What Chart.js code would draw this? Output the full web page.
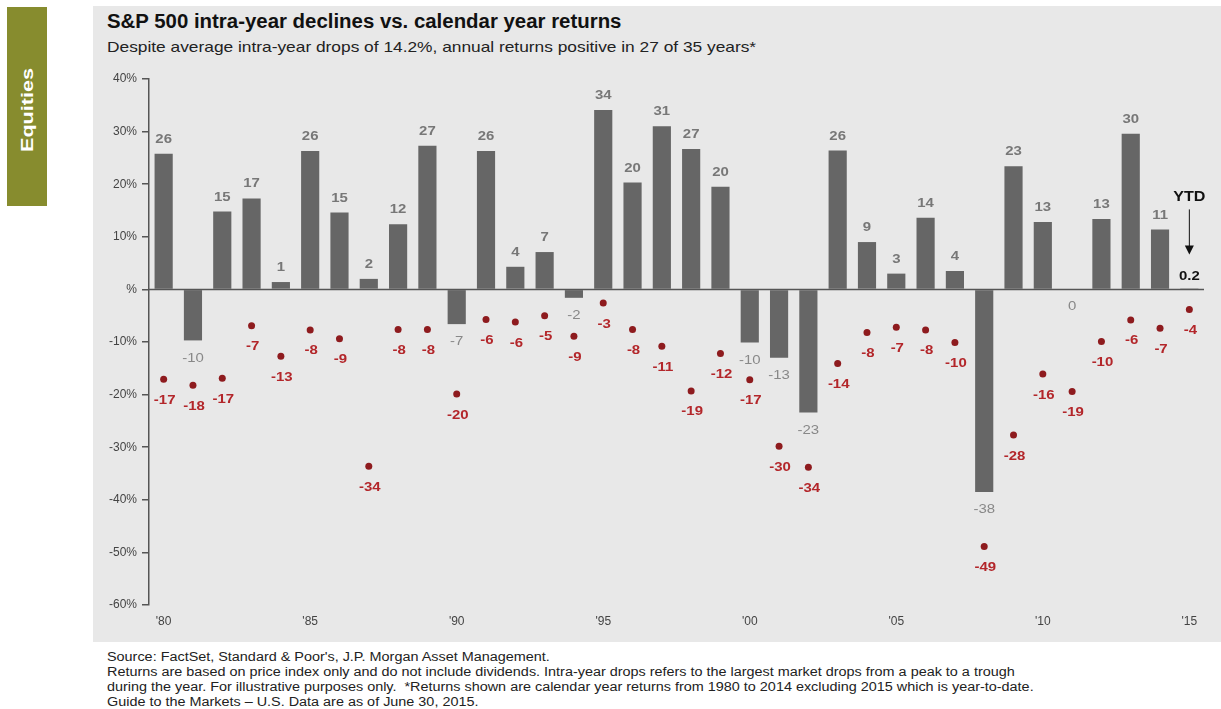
<!DOCTYPE html>
<html>
<head>
<meta charset="utf-8">
<script src="https://cdn.jsdelivr.net/npm/chart.js@4.4.0/dist/chart.umd.min.js"></script>
<style>
  body { margin: 0; width: 1221px; height: 709px; background: #fff; position: relative; overflow: hidden; font-family: "Liberation Sans", Arial, sans-serif; }
  #tab { position: absolute; left: 7px; top: 7px; width: 40px; height: 199px; background: #878c2e; }
  #tab span { position: absolute; left: 21px; top: 103px; transform: translate(-50%, -50%) rotate(-90deg) scaleX(1.35); color: #fff; font-weight: bold; font-size: 16px; white-space: nowrap; }
  #panel { position: absolute; left: 93px; top: 6px; width: 1128px; height: 636px; background: #e8e8e8; }
  .wide { transform-origin: 0 0; }
  #title { position: absolute; left: 107px; top: 10px; font-size: 20px; font-weight: bold; color: #111; white-space: nowrap; transform: scaleX(1.02); }
  #subtitle { position: absolute; left: 107px; top: 38px; font-size: 15px; color: #222; white-space: nowrap; transform: scaleX(1.155); }
  #notes { position: absolute; left: 107px; top: 650px; font-size: 12px; line-height: 15px; color: #222; white-space: nowrap; transform: scaleX(1.2); }
  canvas { position: absolute; left: 0; top: 0; }
</style>
</head>
<body>
<div id="tab"><span>Equities</span></div>
<div id="panel"></div>
<div id="title" class="wide">S&amp;P 500 intra-year declines vs. calendar year returns</div>
<div id="subtitle" class="wide">Despite average intra-year drops of 14.2%, annual returns positive in 27 of 35 years*</div>
<div id="notes" class="wide">
Source: FactSet, Standard &amp; Poor's, J.P. Morgan Asset Management.<br>
Returns are based on price index only and do not include dividends. Intra-year drops refers to the largest market drops from a peak to a trough<br>
during the year. For illustrative purposes only.&nbsp; *Returns shown are calendar year returns from 1980 to 2014 excluding 2015 which is year-to-date.<br>
Guide to the Markets – U.S. Data are as of June 30, 2015.
</div>
<canvas id="chart" width="1221" height="709"></canvas>
<script>
// years shown on the x axis
const years = [1980, 1981, 1982, 1983, 1984, 1985, 1986, 1987, 1988, 1989,
               1990, 1991, 1992, 1993, 1994, 1995, 1996, 1997, 1998, 1999,
               2000, 2001, 2002, 2003, 2004, 2005, 2006, 2007, 2008, 2009,
               2010, 2011, 2012, 2013, 2014, 2015];

const xTickLabels = ["'80", "", "", "", "", "'85", "", "", "", "",
                     "'90", "", "", "", "", "'95", "", "", "", "",
                     "'00", "", "", "", "", "'05", "", "", "", "",
                     "'10", "", "", "", "", "'15"];

// calendar year returns (%), 2015 is year-to-date
const annualReturns = [25.8, -9.7, 14.8, 17.3, 1.4, 26.3, 14.6, 2.0, 12.4, 27.3,
                       -6.6, 26.3, 4.3, 7.1, -1.6, 34.1, 20.3, 31.0, 26.7, 19.5,
                       -10.1, -13.0, -23.4, 26.4, 9.0, 3.0, 13.6, 3.5, -38.5, 23.4,
                       12.8, 0.0, 13.4, 29.6, 11.4, 0.2];

// largest intra-year drop (%)
const intraYearDeclines = [-17.1, -18.2, -16.9, -6.9, -12.7, -7.7, -9.4, -33.6, -7.6, -7.6,
                           -19.9, -5.7, -6.2, -5.0, -8.9, -2.6, -7.6, -10.8, -19.3, -12.2,
                           -17.2, -29.8, -33.8, -14.1, -8.2, -7.2, -7.7, -10.1, -48.9, -27.7,
                           -16.1, -19.4, -9.9, -5.8, -7.4, -3.8];

const yTicks = [-60, -50, -40, -30, -20, -10, 0, 10, 20, 30, 40];
const yTickLabels = ['-60%', '-50%', '-40%', '-30%', '-20%', '-10%', '%', '10%', '20%', '30%', '40%'];

const FONT = '"Liberation Sans", Arial, sans-serif';
const ytdIndex = years.length - 1;

// text a bit wider than the font, like the source slide
function wideText(c, txt, x, y) {
    c.save();
    c.translate(x, y);
    c.scale(1.15, 1);
    c.fillText(txt, 0, 0);
    c.restore();
}

// labels on bars and dots, zero line and YTD arrow
const labelPlugin = {
    id: 'labels',
    afterDatasetsDraw(chart) {
        const c = chart.ctx;
        const area = chart.chartArea;
        const y0 = chart.scales.y.getPixelForValue(0);

        // zero line
        c.save();
        c.strokeStyle = '#555';
        c.lineWidth = 1.5;
        c.beginPath();
        c.moveTo(area.left, y0);
        c.lineTo(area.right, y0);
        c.stroke();

        c.textAlign = 'center';
        const bars = chart.getDatasetMeta(0).data;
        bars.forEach((bar, i) => {
            const v = annualReturns[i];
            if (i === ytdIndex) {
                c.font = 'bold 13px ' + FONT;
                c.fillStyle = '#111';
                c.textBaseline = 'bottom';
                wideText(c, v.toFixed(1), bar.x, bar.y - 5);
            } else if (v > 0) {
                c.font = 'bold 13px ' + FONT;
                c.fillStyle = '#777';
                c.textBaseline = 'bottom';
                wideText(c, String(Math.round(v)), bar.x, bar.y - 8);
            } else {
                c.font = '13px ' + FONT;
                c.fillStyle = '#888';
                c.textBaseline = 'top';
                wideText(c, String(Math.round(v)), bar.x, bar.y + 11);
            }
        });

        const dots = chart.getDatasetMeta(1).data;
        c.font = 'bold 13px ' + FONT;
        c.fillStyle = '#b3262a';
        c.textBaseline = 'middle';
        dots.forEach((pt, i) => {
            wideText(c, String(Math.round(intraYearDeclines[i])), pt.x + 1, pt.y + 21);
        });

        // YTD marker over the last bar
        const xYtd = bars[ytdIndex].x;
        c.fillStyle = '#111';
        c.font = 'bold 14px ' + FONT;
        wideText(c, 'YTD', xYtd, y0 - 92);
        c.strokeStyle = '#111';
        c.lineWidth = 1;
        c.beginPath();
        c.moveTo(xYtd, y0 - 80);
        c.lineTo(xYtd, y0 - 42);
        c.stroke();
        c.beginPath();
        c.moveTo(xYtd - 4.5, y0 - 44);
        c.lineTo(xYtd + 4.5, y0 - 44);
        c.lineTo(xYtd, y0 - 35);
        c.closePath();
        c.fill();
        c.restore();
    }
};

const ctx = document.getElementById('chart').getContext('2d');
new Chart(ctx, {
    data: {
        labels: years,
        datasets: [{
            type: 'bar',
            data: annualReturns,
            backgroundColor: '#666666',
            barPercentage: 0.62,
            categoryPercentage: 1,
            order: 2
        }, {
            type: 'line',
            data: intraYearDeclines,
            showLine: false,
            pointRadius: 3.5,
            pointBackgroundColor: '#8e1b1e',
            pointBorderWidth: 0,
            order: 1
        }]
    },
    options: {
        responsive: false,
        animation: false,
        layout: { padding: { left: 93, right: 17, top: 79, bottom: 74 } },
        plugins: { legend: { display: false }, tooltip: { enabled: false } },
        scales: {
            x: {
                grid: { display: false, drawTicks: false, tickLength: 0 },
                border: { display: false },
                ticks: {
                    autoSkip: false,
                    maxRotation: 0,
                    padding: 9,
                    color: '#444',
                    font: { family: FONT, size: 12 },
                    callback: (v, i) => xTickLabels[i]
                },
                afterFit: s => { s.height = 30; }
            },
            y: {
                min: -60,
                max: 40,
                afterBuildTicks: s => { s.ticks = yTicks.map(v => ({ value: v })); },
                grid: { drawOnChartArea: false, drawTicks: true, tickLength: 7, color: '#555', lineWidth: 1.5 },
                border: { display: true, color: '#555', width: 1.5 },
                ticks: {
                    padding: 5,
                    color: '#444',
                    font: { family: FONT, size: 12 },
                    callback: v => yTickLabels[yTicks.indexOf(v)]
                },
                afterFit: s => { s.width = 56; }
            }
        }
    },
    plugins: [labelPlugin]
});
</script>
</body>
</html>
